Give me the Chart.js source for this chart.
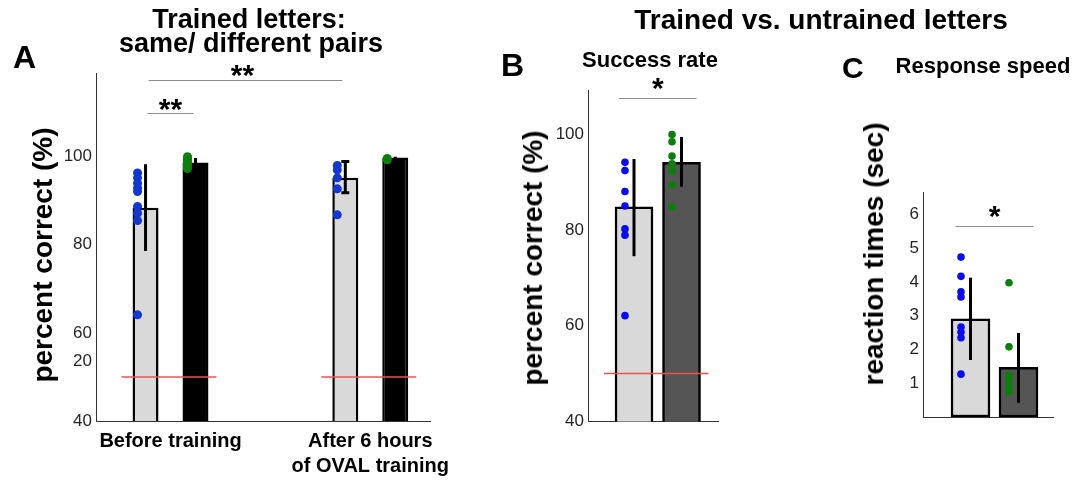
<!DOCTYPE html>
<html>
<head>
<meta charset="utf-8">
<title>Trained vs. untrained letters</title>
<script src="https://cdn.jsdelivr.net/npm/chart.js@4.4.1/dist/chart.umd.min.js"></script>
<style>
  html, body { margin: 0; padding: 0; background: #fff; }
  #page { position: relative; width: 1083px; height: 480px; overflow: hidden;
          font-family: "Liberation Sans", Arial, sans-serif; color: #000; }
  #page canvas { position: absolute; left: 0; top: 0; }
  .t { position: absolute; font-weight: bold; line-height: 1; white-space: nowrap; }
  .c { transform: translateX(-50%); }
  .r { transform: translate(-50%, -50%) rotate(-90deg); }
</style>
</head>
<body>
<div id="page">
  <canvas id="chartA" width="1083" height="480"></canvas>
  <canvas id="chartB" width="1083" height="480"></canvas>
  <canvas id="chartC" width="1083" height="480"></canvas>

  <!-- panel A -->
  <div class="t" style="left:13px; top:41px; font-size:32px;">A</div>
  <div class="t c" style="left:249px; top:6px; font-size:27px;">Trained letters:</div>
  <div class="t c" style="left:251px; top:30px; font-size:27px;">same/ different pairs</div>
  <div class="t r" style="left:43px; top:255px; font-size:28px;">percent correct (%)</div>

  <!-- panels B and C -->
  <div class="t c" style="left:821px; top:6px; font-size:28px;">Trained vs. untrained letters</div>
  <div class="t" style="left:501px; top:49px; font-size:32px;">B</div>
  <div class="t c" style="left:650px; top:49px; font-size:22px;">Success rate</div>
  <div class="t r" style="left:533px; top:258px; font-size:28px;">percent correct (%)</div>
  <div class="t" style="left:842px; top:53px; font-size:30px;">C</div>
  <div class="t c" style="left:983px; top:55px; font-size:22px;">Response speed</div>
  <div class="t r" style="left:874px; top:254px; font-size:28px;">reaction times (sec)</div>
</div>

<script>
// ---- panel A: trained letters, same / different pairs ----
const aGroups = [['Before training'], ['After 6 hours', 'of OVAL training']];
const aLightMean = [88.4, 95.2];
const aDarkMean = [98.7, 99.8];
const aLightErrLo = [78.6, 91.8];
const aLightErrHi = [98.3, 98.9];
const aDarkErrLo = [98.0, 99.5];
const aDarkErrHi = [99.7, 100.0];
const aLightDots = [[96.3, 95.2, 94.0, 92.9, 92.1, 88.7, 87.2, 85.5, 64.1], [98.0, 97.0, 95.2, 92.7, 86.8]];
const aDarkDots = [[100.0, 99.6, 99.2, 98.7, 98.3, 97.8, 97.3], [99.6, 99.3]];
const aTickValues = [40, 53.5, 60, 80, 100];
const aTickLabels = ['40', '20', '60', '80', '100'];
const aSigLevels = [117.3, 110];
const aSigText = ['**', '**'];

// ---- panel B: success rate ----
const bCategories = ['Trained', 'Untrained'];
const bMean = [84.8, 94.1];
const bErrLo = [74.5, 89.0];
const bErrHi = [94.8, 99.4];
const bDots = [[94.1, 92.4, 88.0, 85.0, 80.2, 78.9, 62.1], [99.9, 98.4, 95.4, 93.8, 92.3, 89.4, 84.8]];
const bTickValues = [40, 60, 80, 100];
const bSigLevel = 107.6;

// ---- panel C: response speed ----
const cCategories = ['Trained', 'Untrained'];
const cMean = [2.91, 1.47];
const cErrLo = [1.69, 0.42];
const cErrHi = [4.13, 2.49];
const cDots = [[4.74, 4.17, 3.71, 3.56, 2.67, 2.52, 2.35, 1.27], [3.98, 2.08, 1.24, 1.09, 0.89, 0.75]];
const cTickValues = [1, 2, 3, 4, 5, 6];
const cSigLevel = 5.66;

const chance = 50;

const LIGHT = '#d9d9d9';
const DARK = '#555555';
const GREEN = '#0a800a';

Chart.defaults.font.family = '"Liberation Sans", Arial, sans-serif';
Chart.defaults.color = '#262626';
Chart.defaults.animation = false;

// spread the individual points of each group next to its bar
function dots(groups, shift) {
  return groups.flatMap((vals, i) => vals.map(v => ({ x: i + 1 + shift, y: v })));
}

// error bars, chance line and significance brackets
function makeAnnotate(cfg) {
  return {
    id: 'annotate',
    afterDatasetsDraw(chart) {
      const ctx = chart.ctx;
      const ys = chart.scales.y;
      const bar = (ds, i) => chart.getDatasetMeta(ds).data[i];
      ctx.save();

      (cfg.errors || []).forEach(e => {
        e.lo.forEach((lo, i) => {
          const b = bar(e.ds, i);
          const top = ys.getPixelForValue(e.hi[i]);
          const bot = ys.getPixelForValue(lo);
          const cap = e.cap ? e.cap[i] : 0;
          ctx.strokeStyle = '#000';
          ctx.lineWidth = e.width;
          ctx.beginPath();
          ctx.moveTo(b.x, top);
          ctx.lineTo(b.x, bot);
          if (cap) {
            ctx.moveTo(b.x - cap / 2, top); ctx.lineTo(b.x + cap / 2, top);
            ctx.moveTo(b.x - cap / 2, bot); ctx.lineTo(b.x + cap / 2, bot);
          }
          ctx.stroke();
        });
      });

      // chance level
      (cfg.chanceSpans || []).forEach(([a, z]) => {
        const l = bar(a[0], a[1]), r = bar(z[0], z[1]);
        const y = ys.getPixelForValue(chance);
        ctx.strokeStyle = '#f05050';
        ctx.lineWidth = 1.5;
        ctx.beginPath();
        ctx.moveTo(l.x - l.width / 2 - 11, y);
        ctx.lineTo(r.x + r.width / 2 + 8, y);
        ctx.stroke();
      });

      (cfg.sig || []).forEach(s => {
        const l = bar(s.from[0], s.from[1]), r = bar(s.to[0], s.to[1]);
        const y = Math.round(ys.getPixelForValue(s.level)) + 0.5;
        const x0 = l.x - s.pad, x1 = r.x + s.pad;
        ctx.strokeStyle = '#8c8c8c';
        ctx.lineWidth = 1;
        ctx.beginPath();
        ctx.moveTo(x0, y);
        ctx.lineTo(x1, y);
        ctx.stroke();
        ctx.fillStyle = '#000';
        ctx.font = 'bold 30px "Liberation Sans", Arial, sans-serif';
        ctx.textAlign = 'center';
        ctx.textBaseline = 'alphabetic';
        ctx.fillText(s.text, (x0 + x1) / 2 - (s.dx || 0), y + s.dy);
      });

      ctx.restore();
    }
  };
}

function yAxis(min, max, values, labels, width) {
  return {
    min: min,
    max: max,
    grid: { display: false, drawTicks: false },
    border: { color: '#333', width: 1 },
    afterBuildTicks: s => { s.ticks = values.map(v => ({ value: v })); },
    afterFit: s => { s.width = width; },
    ticks: { padding: 4, color: '#262626', font: { size: 17 }, callback: (v, i) => labels[i] }
  };
}

function xAxis(min, max, count, labels) {
  return {
    type: 'linear',
    offset: false,
    min: min,
    max: max,
    grid: { display: false, drawTicks: false },
    border: { color: '#333', width: 1 },
    afterBuildTicks: s => { s.ticks = Array.from({ length: count }, (_, i) => ({ value: i + 1 })); },
    afterFit: s => { s.height = labels ? 59 : 0; },
    ticks: labels ? {
      autoSkip: false, maxRotation: 0, padding: 8, color: '#000',
      font: { size: 20, weight: 'bold', lineHeight: 1.25 },
      callback: (v, i) => labels[i]
    } : { display: false }
  };
}

const noPlugins = { legend: { display: false }, tooltip: { enabled: false } };

// panel A
new Chart(document.getElementById('chartA'), {
  type: 'bar',
  data: {
    datasets: [
      { label: 'Same pairs', data: aLightMean.map((v, i) => ({ x: i + 1, y: v })),
        backgroundColor: LIGHT, borderColor: '#000', borderWidth: 2.5, borderSkipped: false,
        categoryPercentage: 0.5, barPercentage: 0.52, order: 2 },
      { label: 'Different pairs', data: aDarkMean.map((v, i) => ({ x: i + 1, y: v })),
        backgroundColor: '#000', borderColor: '#000', borderWidth: 2.5, borderSkipped: false,
        categoryPercentage: 0.5, barPercentage: 0.52, order: 2 },
      { type: 'scatter', data: dots(aLightDots, -0.165), backgroundColor: '#1437d2',
        pointRadius: 4.5, borderWidth: 0, order: 1 },
      { type: 'scatter', data: dots(aDarkDots, 0.085), backgroundColor: GREEN,
        pointRadius: 4.5, borderWidth: 0, order: 1 }
    ]
  },
  options: {
    responsive: false,
    layout: { padding: { left: 36, top: 73, right: 653, bottom: 0 } },
    scales: {
      x: xAxis(0.627, 2.299, aGroups.length, aGroups),
      y: yAxis(40, 119, aTickValues, aTickLabels, 60)
    },
    plugins: noPlugins
  },
  plugins: [makeAnnotate({
    errors: [
      { ds: 0, lo: aLightErrLo, hi: aLightErrHi, width: 3, cap: [0, 8] },
      { ds: 1, lo: aDarkErrLo, hi: aDarkErrHi, width: 3 }
    ],
    chanceSpans: [[[0, 0], [1, 0]], [[0, 1], [1, 1]]],
    sig: [
      { from: [0, 0], to: [0, 1], level: aSigLevels[0], text: aSigText[0], pad: -3, dy: 4, dx: 3 },
      { from: [0, 0], to: [1, 0], level: aSigLevels[1], text: aSigText[1], pad: -2, dy: 5 }
    ]
  })]
});

// panel B
new Chart(document.getElementById('chartB'), {
  type: 'bar',
  data: {
    datasets: [
      { label: 'Success rate', data: bMean.map((v, i) => ({ x: i + 1, y: v })),
        backgroundColor: [LIGHT, DARK], borderColor: '#000', borderWidth: 2.5,
        borderSkipped: false, barThickness: 38, order: 2 },
      { type: 'scatter', data: dots([bDots[0], []], -0.19), backgroundColor: '#0a0af5',
        pointRadius: 3.8, borderWidth: 0, order: 1 },
      { type: 'scatter', data: dots([[], bDots[1]], -0.2), backgroundColor: GREEN,
        pointRadius: 3.8, borderWidth: 0, order: 1 }
    ]
  },
  options: {
    responsive: false,
    layout: { padding: { left: 538, top: 90, right: 365, bottom: 58.5 } },
    scales: {
      x: xAxis(0.0316, 2.768, bCategories.length, null),
      y: yAxis(40, 109.2, bTickValues, bTickValues.map(String), 50)
    },
    plugins: noPlugins
  },
  plugins: [makeAnnotate({
    errors: [{ ds: 0, lo: bErrLo, hi: bErrHi, width: 3 }],
    chanceSpans: [[[0, 0], [0, 1]]],
    sig: [{ from: [0, 0], to: [0, 1], level: bSigLevel, text: '*', pad: 15, dy: -1 }]
  })]
});

// panel C
new Chart(document.getElementById('chartC'), {
  type: 'bar',
  data: {
    datasets: [
      { label: 'Reaction times', data: cMean.map((v, i) => ({ x: i + 1, y: v })),
        backgroundColor: [LIGHT, DARK], borderColor: '#000', borderWidth: 2.5,
        borderSkipped: false, barThickness: 39, order: 2 },
      { type: 'scatter', data: dots([cDots[0], []], -0.198), backgroundColor: '#0a0af5',
        pointRadius: 3.8, borderWidth: 0, order: 1 },
      { type: 'scatter', data: dots([[], cDots[1]], -0.198), backgroundColor: GREEN,
        pointRadius: 3.8, borderWidth: 0, order: 1 }
    ]
  },
  options: {
    responsive: false,
    layout: { padding: { left: 873, top: 192, right: 30, bottom: 63 } },
    scales: {
      x: xAxis(0.0104, 2.719, cCategories.length, null),
      y: yAxis(0, 6.67, cTickValues, cTickValues.map(String), 50)
    },
    plugins: noPlugins
  },
  plugins: [makeAnnotate({
    errors: [{ ds: 0, lo: cErrLo, hi: cErrHi, width: 3 }],
    sig: [{ from: [0, 0], to: [0, 1], level: cSigLevel, text: '*', pad: 15, dy: -1 }]
  })]
});
</script>
</body>
</html>
